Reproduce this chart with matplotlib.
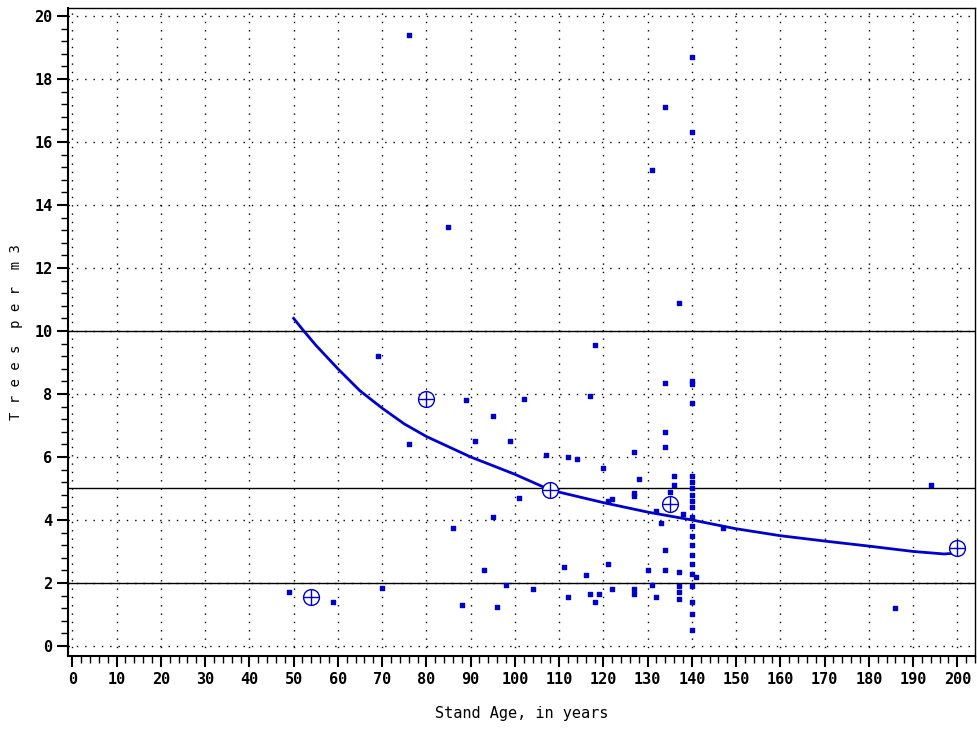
import matplotlib.pyplot as plt
from matplotlib.ticker import MultipleLocator

# observed stand age vs trees per m3
age = [49, 59, 70, 69, 76, 76, 85, 86, 88, 89, 91, 93, 95, 95, 96, 98, 99, 101, 102, 104,
       107, 111, 112, 112, 114, 116, 117, 117, 118, 118, 119, 120, 121, 121, 122, 122,
       127, 127, 127, 127, 127, 128, 130, 131, 131, 132, 132, 133, 134, 134, 134, 134,
       134, 134, 135, 136, 136, 137, 137, 137, 137, 137, 138, 141, 147, 186, 194]
trees = [1.7, 1.4, 1.85, 9.2, 19.4, 6.4, 13.3, 3.75, 1.3, 7.8, 6.5, 2.4, 7.3, 4.1, 1.25,
         1.95, 6.5, 4.7, 7.85, 1.8, 6.05, 2.5, 6.0, 1.55, 5.95, 2.25, 1.65, 7.95, 9.55,
         1.4, 1.65, 5.65, 4.6, 2.6, 4.65, 1.8, 6.15, 4.85, 4.75, 1.8, 1.65, 5.3, 2.4,
         15.1, 1.95, 1.55, 4.3, 3.9, 17.1, 8.35, 6.8, 6.3, 3.05, 2.4, 4.9, 5.4, 5.1, 10.9,
         2.35, 1.9, 1.7, 1.5, 4.2, 2.2, 3.75, 1.2, 5.1]

# stands aged 140 years
age_140 = [140] * 22
trees_140 = [18.7, 16.3, 8.4, 8.3, 7.7, 5.4, 5.2, 5.0, 4.8, 4.6, 4.4, 4.1, 3.8, 3.5, 3.2,
             2.9, 2.6, 2.3, 1.9, 1.4, 1.0, 0.5]

# group means (circled)
mean_age = [54, 80, 108, 135, 200]
mean_trees = [1.55, 7.85, 4.95, 4.5, 3.1]

# fitted curve
fit_age = [50, 52, 55, 60, 65, 70, 75, 80, 90, 100, 108, 120, 130, 140, 150, 160, 170,
           180, 190, 197, 200]
fit_trees = [10.4, 10.05, 9.55, 8.8, 8.1, 7.55, 7.05, 6.65, 6.0, 5.45, 4.95, 4.55, 4.25,
             4.0, 3.72, 3.5, 3.33, 3.17, 3.0, 2.92, 2.95]

ref_lines = [2, 5, 10]

plt.rcParams['font.family'] = 'DejaVu Sans Mono'
plt.rcParams['font.weight'] = 'bold'
blue = '#0000cc'

fig = plt.figure(figsize=(9.77, 7.33), dpi=100)
ax = fig.add_axes([0.07, 0.105, 0.928, 0.884])

ax.grid(True, which='major', color='black', linestyle=(0, (1, 5)), linewidth=1)
for y in ref_lines:
    ax.axhline(y, color='black', linewidth=1)
ax.plot(fit_age, fit_trees, color=blue, linewidth=2)
ax.scatter(age, trees, marker='s', s=9, color=blue, zorder=3)
ax.scatter(age_140, trees_140, marker='s', s=9, color=blue, zorder=3)
ax.scatter(mean_age, mean_trees, marker='o', s=130, facecolor='white',
           edgecolor=blue, linewidth=1, zorder=4)
ax.scatter(mean_age, mean_trees, marker='+', s=130, color=blue, linewidth=1, zorder=5)

ax.set_xlim(-0.9, 204)
ax.set_ylim(-0.32, 20.25)
ax.xaxis.set_major_locator(MultipleLocator(10))
ax.xaxis.set_minor_locator(MultipleLocator(2))
ax.yaxis.set_major_locator(MultipleLocator(2))
ax.yaxis.set_minor_locator(MultipleLocator(0.4))
ax.tick_params(which='major', length=8, width=1.5, labelsize=11)
ax.tick_params(which='minor', length=5, width=1)
ax.set_xlabel('Stand Age, in years', fontsize=11, labelpad=14)
ax.set_ylabel('T r e e s  p e r  m 3', fontsize=10, labelpad=8)
for s in ax.spines.values():
    s.set_linewidth(1)
ax.spines['left'].set_linewidth(1.5)
ax.spines['bottom'].set_linewidth(1.5)

plt.savefig('out.png')
